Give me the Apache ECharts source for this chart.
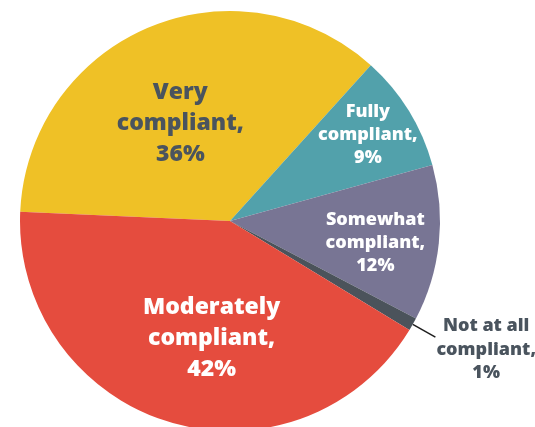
<!DOCTYPE html>
<html>
<head>
<meta charset="utf-8">
<script src="https://cdn.jsdelivr.net/npm/echarts@6/dist/echarts.min.js"></script>
<style>
  html, body { margin: 0; padding: 0; background: #ffffff; }
  #chart { width: 535px; height: 427px; }
</style>
</head>
<body>
<div id="chart"></div>
<script>
// Compliance levels, drawn clockwise starting from the left edge of the pie
const categories = ['Very compliant', 'Fully compliant', 'Somewhat compliant', 'Not at all compliant', 'Moderately compliant'];
const shares = [36, 9, 12, 1, 42];

// Slice fill colours
const sliceColors = ['#EFC126', '#52A1AB', '#787594', '#4B535B', '#E54C3E'];

// Label look and nudges for the inside labels
const labelStyles = {
  'Very compliant':       { color: '#4A545E', fontSize: 23, lineHeight: 31, dx: -8, dy: 2 },
  'Fully compliant':      { color: '#FFFFFF', fontSize: 18, lineHeight: 23, dx: 46, dy: -29 },
  'Somewhat compliant':   { color: '#FFFFFF', fontSize: 18, lineHeight: 23, dx: 38, dy: 10 },
  'Moderately compliant': { color: '#FFFFFF', fontSize: 23, lineHeight: 31, dx: 13, dy: 14 }
};

const FONT = '"Open Sans", Lato, sans-serif';
const WEIGHT = 800;

function labelText(name, value) {
  return name.replace(' compliant', '\ncompliant,') + '\n' + value + '%';
}

const seriesData = categories.map(function (name, i) {
  const item = { name: name, value: shares[i], itemStyle: { color: sliceColors[i] } };
  const s = labelStyles[name];
  if (s) {
    item.label = {
      position: 'inside',
      formatter: labelText(name, shares[i]),
      color: s.color,
      fontSize: s.fontSize,
      lineHeight: s.lineHeight,
      fontWeight: WEIGHT,
      fontFamily: FONT
    };
    item.labelLine = { show: false };
  } else {
    // small slice: label sits outside with a straight leader line
    const lines = labelText(name, shares[i]).split('\n');
    item.label = {
      position: 'outside',
      formatter: lines.map(function (l) { return '{c|' + l + '}'; }).join('\n'),
      distanceToLabelLine: 1,
      padding: [25, 0, 0, 0],
      rich: {
        c: {
          align: 'center',
          color: '#4A545E',
          fontSize: 18,
          lineHeight: 23.5,
          fontWeight: WEIGHT,
          fontFamily: FONT
        }
      }
    };
    item.labelLine = {
      show: true,
      length: 26,
      length2: 0,
      smooth: false,
      lineStyle: { color: '#1E1E1E', width: 1.5 }
    };
  }
  return item;
});

const chart = echarts.init(document.getElementById('chart'), null, { renderer: 'canvas' });

chart.setOption({
  animation: false,
  backgroundColor: '#ffffff',
  series: [{
    type: 'pie',
    center: [230, 221],
    radius: 210,
    startAngle: 177.5,
    clockwise: true,
    avoidLabelOverlap: false,
    silent: true,
    itemStyle: { borderWidth: 0 },
    emphasis: { disabled: true },
    data: seriesData,
    labelLayout: function (params) {
      const s = labelStyles[categories[params.dataIndex]];
      if (!s) return {};
      return { dx: s.dx, dy: s.dy };
    }
  }]
});
</script>
</body>
</html>
